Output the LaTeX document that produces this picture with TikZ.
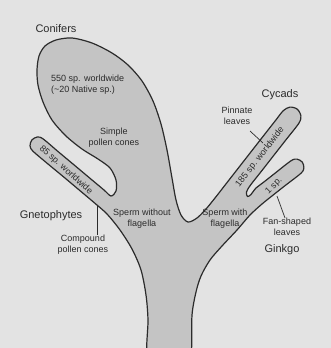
\documentclass[tikz,border=0pt]{standalone}
\usepackage{fontspec}
\setmainfont{Liberation Sans}
\usepackage{xcolor}
\definecolor{paper}{gray}{0.89}
\definecolor{stem}{gray}{0.77}
\definecolor{ink}{gray}{0.17}

\begin{document}
\begin{tikzpicture}[
    x=1pt, y=-1pt,
    tree/.style    = {draw=ink, line width=1.2pt, fill=stem, line join=round},
    group/.style   = {font=\fontsize{11}{13}\selectfont, text=ink, inner sep=0pt},
    note/.style    = {font=\fontsize{9}{11}\selectfont, text=ink, align=center, inner sep=0pt},
    pointer/.style = {draw=ink, line width=0.7pt},
]
\useasboundingbox (0,0) rectangle (331,348);
\fill[paper] (0,0) rectangle (331,348);
\clip (0,0) rectangle (331,348);

% trunk with its four branches, one closed outline
\draw[tree] plot[smooth cycle, tension=0.5] coordinates {
    (148,358) (148,320) (146,295) (141,270) (132,249) (120,230) (107,214)
    (94,202.5) (78,189) (63.5,176.8) (48,164) (32.9,151.1)
    (30,145.7) (31.9,139.9) (37.3,137) (43.1,138.9)
    (58,151.5) (73.7,164.6) (90,178.3) (104,190) (111,196)
    (116,191) (116,180) (110,168) (98,159) (82,149) (66,136) (52,120)
    (43,102) (38,85) (37,70) (39,56) (45,46) (56,40) (72,38) (92,43)
    (112,53) (128,65) (142,81) (153,101) (161,124) (167,150) (172,178)
    (176,200) (181,215) (188,222)
    (197,218) (206,209) (215.4,197.5) (227.7,181.7) (246.1,158.1)
    (264.6,134.4) (276.9,118.7) (283.1,110.8) (289.8,107.1) (297.2,109.1)
    (300.9,115.8) (298.9,123.2) (286.6,139) (274.3,154.7) (262,170.5)
    (250.5,185.1) (246.5,192) (247.5,196.5) (251,194.5) (255.6,188.4)
    (263.5,182.3) (275.3,173) (291.1,160.7) (297,159.1) (302.3,162.1)
    (303.9,168) (300.9,173.3) (285.1,185.6) (273.3,194.9) (262,204)
    (250,215) (237,230) (222,246) (210,260) (201,276) (196,292)
    (192,315) (190,358) (170,362)
};

% group names
\node[group] (conifers) at (56,29)  {Conifers};
\node[group] (cycads)   at (280,95) {Cycads};
\node[group] (gneto)    at (51,216) {Gnetophytes};
\node[group] (ginkgo)   at (282,250) {Ginkgo};

% notes
\node[note, align=left, anchor=west] (conifersp) at (51,84.5)
    {550 sp. worldwide\\(\textasciitilde20 Native sp.)};
\node[note] (simple)   at (114,138) {Simple\\pollen cones};
\node[note, rotate=-42] (gnetosp) at (66,170) {85 sp. worldwide};
\node[note] (compound) at (83,245)  {Compound\\pollen cones};
\node[note] (without)  at (142,219) {Sperm without\\flagella};
\node[note] (with)     at (225,219) {Sperm with\\flagella};
\node[note] (pinnate)  at (237,116) {Pinnate\\leaves};
\node[note, rotate=52] (cycadsp)  at (260,157) {185 sp. worldwide};
\node[note, rotate=45] (ginkgosp) at (274,186) {1 sp.};
\node[note] (fan)      at (287,227) {Fan-shaped\\leaves};

% pointers
\coordinate (pinnateA) at (250,131);
\coordinate (pinnateB) at (263,143);
\coordinate (fanA)     at (277,196);
\coordinate (compoundA) at (97,205);
\draw[pointer] (pinnateA) -- (pinnateB);
\draw[pointer] (fanA) -- (fan.north -| 285,0);
\draw[pointer] (compoundA) -- (compoundA |- compound.north);
\end{tikzpicture}
\end{document}
